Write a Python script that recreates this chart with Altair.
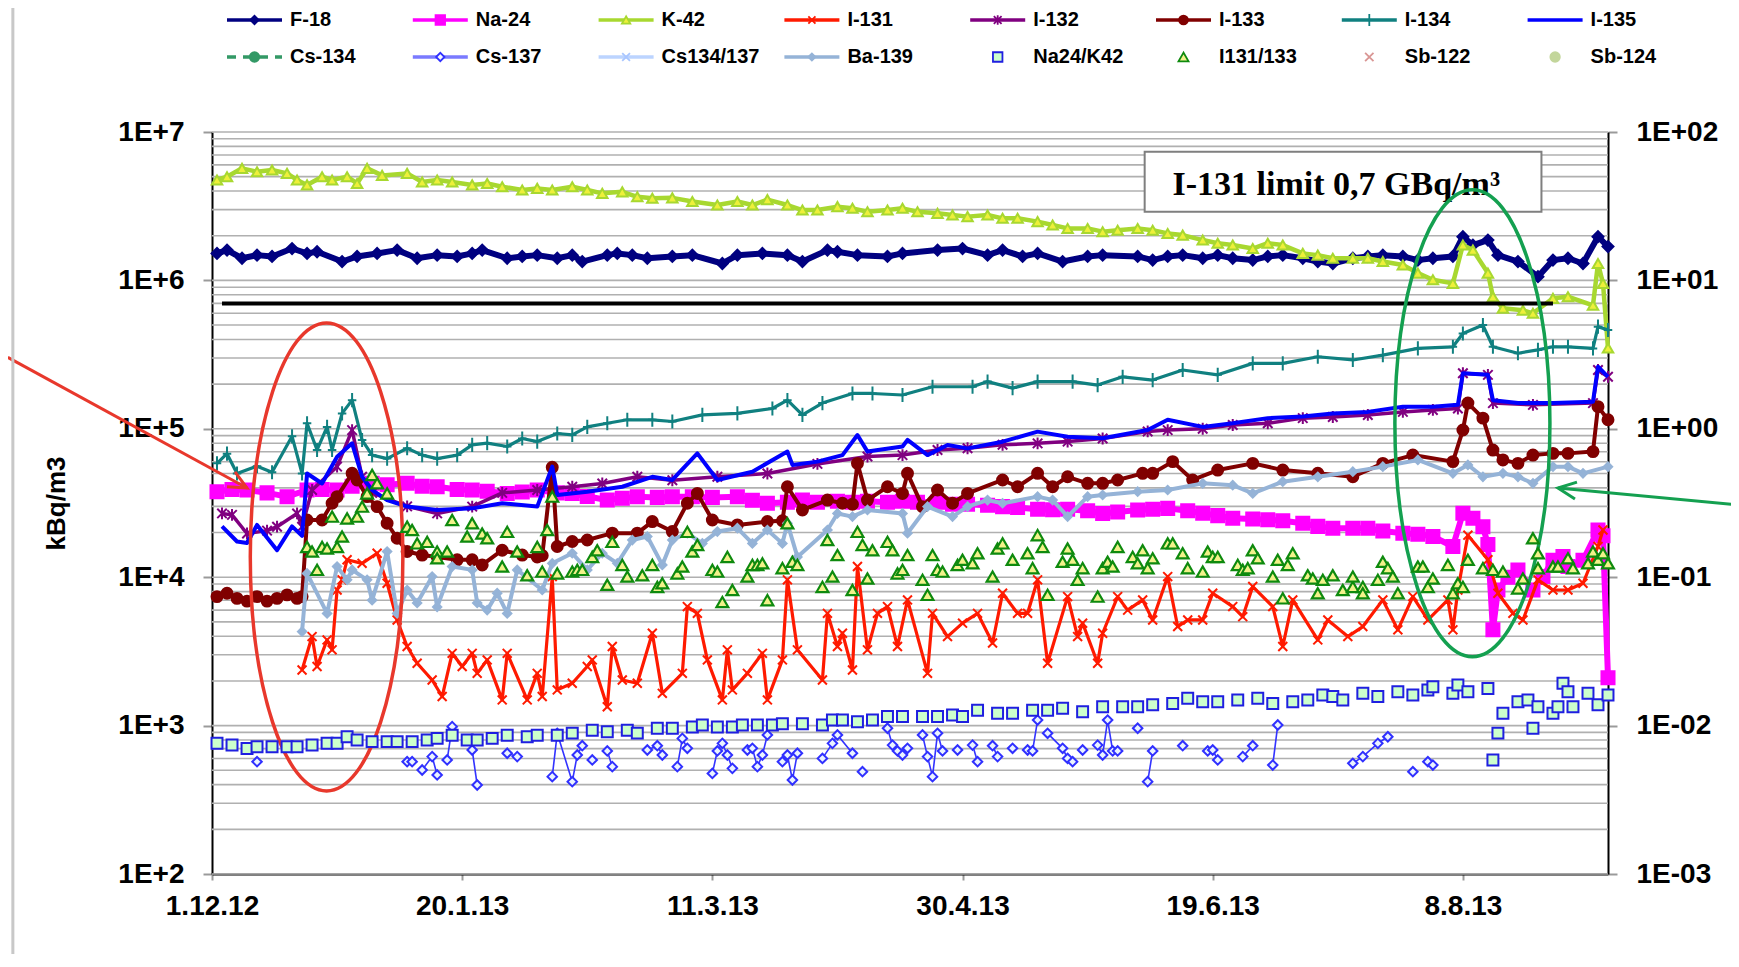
import altair as alt
import pandas as pd

# ---------------- data: day 0 = 1.12.2012, values in kBq/m3 (ratios on right axis) ----------------
F18 = [(1,1.52e6),(3,1.60e6),(6,1.41e6),(9,1.48e6),(12,1.45e6),(16,1.64e6),(19,1.52e6),(21,1.56e6),(26,1.34e6),(29,1.45e6),
       (33,1.52e6),(37,1.60e6),(41,1.41e6),(45,1.48e6),(49,1.45e6),(52,1.52e6),(54,1.60e6),(59,1.41e6),(62,1.45e6),(65,1.48e6),
       (69,1.41e6),(72,1.48e6),(74,1.34e6),(79,1.48e6),(81,1.52e6),(84,1.48e6),(87,1.41e6),(92,1.45e6),(96,1.48e6),(102,1.30e6),
       (105,1.48e6),(110,1.52e6),(115,1.48e6),(118,1.34e6),(123,1.60e6),(125,1.56e6),(129,1.48e6),(135,1.45e6),(138,1.52e6),(145,1.60e6),
       (150,1.64e6),(155,1.48e6),(158,1.60e6),(162,1.45e6),(165,1.52e6),(170,1.34e6),(175,1.45e6),(178,1.48e6),(185,1.45e6),(188,1.37e6),
       (191,1.45e6),(194,1.48e6),(198,1.41e6),(201,1.48e6),(204,1.41e6),(208,1.37e6),(211,1.45e6),(214,1.48e6),(218,1.41e6),(221,1.34e6),
       (224,1.30e6),(228,1.41e6),(231,1.45e6),(234,1.48e6),(238,1.45e6),(241,1.37e6),(244,1.41e6),(248,1.45e6),(250,1.97e6),(252,1.73e6),
       (255,1.87e6),(257,1.48e6),(261,1.34e6),(265,1.06e6),(268,1.37e6),(271,1.41e6),(274,1.30e6),(277,1.97e6),(279,1.69e6)]

K42 = [(1,4.75e6),(3,5.0e6),(6,5.69e6),(9,5.4e6),(12,5.55e6),(15,5.26e6),(17,4.75e6),(19,4.4e6),(22,5.0e6),(24,4.75e6),
       (27,5.0e6),(29,4.5e6),(31,5.69e6),(34,5.1e6),(39,5.26e6),(42,4.6e6),(45,4.75e6),(48,4.6e6),(52,4.4e6),(55,4.5e6),
       (58,4.28e6),(62,4.07e6),(65,4.17e6),(68,4.07e6),(72,4.28e6),(75,4.07e6),(78,3.86e6),(82,3.95e6),(85,3.66e6),(88,3.58e6),
       (92,3.6e6),(96,3.40e6),(101,3.22e6),(105,3.40e6),(108,3.22e6),(111,3.50e6),(115,3.22e6),(118,2.98e6),(121,2.98e6),(125,3.14e6),
       (128,3.06e6),(131,2.90e6),(135,2.98e6),(138,3.06e6),(141,2.90e6),(145,2.83e6),(148,2.76e6),(151,2.69e6),(155,2.76e6),(158,2.62e6),
       (161,2.62e6),(165,2.49e6),(168,2.36e6),(171,2.24e6),(175,2.24e6),(178,2.13e6),(181,2.18e6),(185,2.24e6),(188,2.18e6),(191,2.07e6),
       (194,2.02e6),(198,1.87e6),(201,1.78e6),(204,1.73e6),(208,1.64e6),(211,1.78e6),(214,1.73e6),(218,1.52e6),(221,1.48e6),(224,1.41e6),
       (228,1.41e6),(231,1.41e6),(234,1.34e6),(238,1.27e6),(241,1.12e6),(244,1.01e6),(248,0.955e6),(250,1.73e6),(252,1.60e6),(255,1.12e6),
       (256,0.776e6),(258,0.65e6),(262,0.63e6),(264,0.60e6),(268,0.757e6),(271,0.776e6),(276,0.68e6),(277,1.30e6),(278,0.955e6),(279,0.35e6)]

NA24 = [(1,3.77e4),(4,3.9e4),(7,3.87e4),(11,3.7e4),(15,3.49e4),(19,3.87e4),(22,3.9e4),(25,3.87e4),(28,4.1e4),(32,4.29e4),
        (35,4.2e4),(39,4.29e4),(42,4.1e4),(45,4.07e4),(49,3.9e4),(52,3.87e4),(55,3.8e4),(59,3.67e4),(62,3.75e4),(65,3.87e4),
        (69,3.7e4),(72,3.67e4),(75,3.5e4),(79,3.31e4),(82,3.4e4),(85,3.49e4),(89,3.45e4),(92,3.49e4),(96,3.49e4),(100,3.45e4),
        (105,3.49e4),(108,3.3e4),(111,3.15e4),(115,3.2e4),(118,3.31e4),(121,3.2e4),(125,3.25e4),(128,3.2e4),(131,3.25e4),(135,3.2e4),
        (138,3.25e4),(141,3.2e4),(145,3.2e4),(148,3.1e4),(151,3.1e4),(155,3.05e4),(158,2.99e4),(161,2.95e4),(165,2.87e4),(168,2.85e4),
        (171,2.87e4),(175,2.8e4),(178,2.69e4),(181,2.75e4),(185,2.84e4),(188,2.87e4),(191,2.91e4),(195,2.8e4),(198,2.70e4),(201,2.6e4),
        (204,2.50e4),(208,2.47e4),(211,2.44e4),(214,2.4e4),(218,2.31e4),(221,2.2e4),(224,2.14e4),(228,2.14e4),(231,2.14e4),(234,2.05e4),
        (238,1.98e4),(241,1.95e4),(244,1.88e4),(248,1.61e4),(250,2.70e4),(252,2.5e4),(254,2.19e4),(255,1.66e4),(256,4.42e3),(257,8.2e3),
        (259,1.0e4),(261,1.12e4),(264,8.2e3),(266,1.01e4),(268,1.3e4),(270,1.38e4),(271,1.18e4),(274,1.3e4),(277,2.08e4),(278,1.9e4),(279,2.1e3)]

I131 = [(18,2.37e3),(20,3.98e3),(21,2.5e3),(23,3.78e3),(24,3.24e3),(25,8.2e3),(26,9.6e3),(27,1.31e4),(30,1.24e4),(33,1.45e4),
        (35,9.1e3),(37,5.15e3),(39,3.41e3),(41,2.63e3),(44,2.03e3),(46,1.57e3),(48,3.07e3),(50,2.5e3),(52,3.07e3),(53,2.25e3),
        (55,2.77e3),(58,1.49e3),(59,3.07e3),(63,1.49e3),(65,2.25e3),(66,1.57e3),(68,1.01e4),(69,1.74e3),(72,1.93e3),(75,2.5e3),
        (76,2.77e3),(79,1.34e3),(80,3.41e3),(82,2.03e3),(85,1.93e3),(88,4.19e3),(90,1.65e3),(94,2.25e3),(95,6.34e3),(97,5.71e3),
        (99,2.77e3),(102,1.49e3),(103,3.24e3),(104,1.74e3),(107,2.25e3),(110,3.07e3),(111,1.49e3),(114,2.77e3),(115,9.6e3),(117,3.24e3),
        (122,2.03e3),(123,5.71e3),(125,3.41e3),(126,4.19e3),(128,2.37e3),(129,1.18e4),(131,3.24e3),(133,5.71e3),(135,6.34e3),(137,3.41e3),
        (139,7.03e3),(143,2.25e3),(144,5.71e3),(147,3.98e3),(150,4.9e3),(153,5.71e3),(156,3.6e3),(158,7.8e3),(161,5.71e3),(163,5.71e3),
        (165,9.6e3),(167,2.63e3),(171,7.4e3),(173,3.98e3),(174,4.9e3),(177,2.63e3),(178,4.19e3),(181,7.4e3),(183,6.0e3),(186,7.03e3),
        (188,5.15e3),(191,1.01e4),(193,4.65e3),(195,5.15e3),(198,5.15e3),(200,7.8e3),(204,6.34e3),(206,5.42e3),(208,8.65e3),(212,6.34e3),
        (214,3.41e3),(216,7.03e3),(221,3.78e3),(223,5.15e3),(227,3.98e3),(230,4.65e3),(234,7.03e3),(237,4.42e3),(240,7.4e3),(243,5.15e3),
        (247,7.03e3),(248,4.42e3),(249,8.2e3),(251,1.92e4),(255,1.31e4),(257,7.8e3),(260,5.71e3),(262,5.15e3),(265,9.6e3),(268,8.2e3),
        (271,8.2e3),(274,9.1e3),(277,1.61e4),(278,2.08e4)]

I132 = [(2,2.69e4),(4,2.63e4),(7,1.97e4),(11,2.06e4),(13,2.19e4),(17,2.69e4),(18,2.19e4),(20,3.87e4),(25,5.56e4),(28,9.8e4),
        (30,4.75e4),(32,3.7e4),(39,3.0e4),(45,2.69e4),(52,2.99e4),(58,3.7e4),(65,3.87e4),(72,4.07e4),(78,4.28e4),(85,4.75e4),
        (92,4.5e4),(101,4.75e4),(111,5.0e4),(121,5.8e4),(131,6.5e4),(138,6.65e4),(145,7.2e4),(151,7.4e4),(158,7.8e4),(165,7.98e4),
        (171,8.2e4),(178,8.6e4),(187,9.6e4),(191,9.8e4),(198,1.0e5),(204,1.06e5),(211,1.09e5),(218,1.18e5),(224,1.2e5),(231,1.24e5),
        (238,1.30e5),(244,1.34e5),(249,1.37e5),(250,2.37e5),(255,2.31e5),(256,1.49e5),(264,1.45e5),(276,1.49e5),(277,2.49e5),(279,2.24e5)]

I133 = [(1,7.4e3),(3,7.8e3),(5,7.2e3),(7,6.9e3),(9,7.4e3),(11,6.9e3),(13,7.2e3),(15,7.6e3),(17,7.2e3),(18,7.4e3),
        (19,2.43e4),(22,2.43e4),(24,3.15e4),(25,3.49e4),(28,5.01e4),(29,4.52e4),(31,3.49e4),(33,2.99e4),(35,2.31e4),(37,1.83e4),
        (39,1.49e4),(42,1.41e4),(45,1.37e4),(49,1.31e4),(52,1.31e4),(54,1.21e4),(58,1.52e4),(62,1.41e4),(65,1.37e4),(66,1.4e4),
        (68,5.5e4),(69,1.61e4),(72,1.74e4),(75,1.78e4),(80,1.98e4),(85,1.98e4),(88,2.37e4),(92,2.03e4),(95,3.15e4),(97,3.67e4),
        (100,2.43e4),(105,2.25e4),(111,2.37e4),(114,2.4e4),(115,4.07e4),(118,2.84e4),(123,3.31e4),(126,3.15e4),(128,3.1e4),(129,5.85e4),
        (131,3.31e4),(135,4.07e4),(138,3.67e4),(139,5.01e4),(142,2.99e4),(145,3.87e4),(148,3.15e4),(151,3.67e4),(158,4.52e4),(161,4.07e4),
        (165,5.01e4),(168,4.07e4),(171,4.75e4),(175,4.29e4),(178,4.29e4),(181,4.52e4),(186,5.01e4),(188,5.01e4),(192,6.01e4),(196,4.52e4),
        (201,5.27e4),(208,5.85e4),(214,5.27e4),(221,5.01e4),(228,4.75e4),(234,5.85e4),(240,6.65e4),(248,6.01e4),(250,9.81e4),(251,1.49e5),
        (254,1.18e5),(256,7.19e4),(258,6.17e4),(261,5.85e4),(264,6.65e4),(268,6.83e4),(271,6.83e4),(276,7.02e4),(277,1.41e5),(279,1.15e5)]

I134 = [(1,5.85e4),(3,6.8e4),(5,5.0e4),(9,5.6e4),(12,5.1e4),(16,8.9e4),(18,5.0e4),(19,1.09e5),(21,7.2e4),(23,1.03e5),
        (24,7.2e4),(26,1.27e5),(28,1.56e5),(30,8.4e4),(32,6.65e4),(35,6.3e4),(39,7.4e4),(42,6.65e4),(45,6.3e4),(49,6.65e4),
        (52,7.8e4),(55,8.0e4),(59,7.6e4),(62,8.6e4),(65,8.2e4),(69,9.3e4),(72,9.1e4),(75,1.03e5),(79,1.09e5),(83,1.15e5),
        (88,1.15e5),(92,1.12e5),(98,1.24e5),(105,1.27e5),(112,1.37e5),(115,1.56e5),(118,1.24e5),(122,1.49e5),(128,1.73e5),(132,1.73e5),
        (138,1.69e5),(144,1.92e5),(152,1.92e5),(155,2.08e5),(160,1.88e5),(165,2.08e5),(172,2.08e5),(177,1.97e5),(182,2.24e5),(188,2.13e5),
        (194,2.49e5),(201,2.31e5),(208,2.76e5),(214,2.76e5),(221,3.06e5),(228,2.91e5),(234,3.14e5),(241,3.48e5),(248,3.57e5),(250,4.39e5),
        (254,5.0e5),(256,3.57e5),(261,3.23e5),(265,3.40e5),(268,3.57e5),(271,3.57e5),(276,3.48e5),(277,4.88e5),(279,4.63e5)]

I135 = [(2,2.2e4),(5,1.74e4),(7,1.7e4),(9,2.25e4),(13,1.52e4),(16,2.2e4),(18,1.9e4),(19,5.0e4),(22,4.28e4),(25,6.48e4),
        (28,7.98e4),(30,4.75e4),(32,3.87e4),(35,3.31e4),(39,2.99e4),(45,2.84e4),(52,2.91e4),(58,3.15e4),(65,2.99e4),(68,5.56e4),
        (69,3.58e4),(75,3.77e4),(82,4.07e4),(88,4.75e4),(92,4.52e4),(97,6.83e4),(101,4.52e4),(108,5.14e4),(115,7.02e4),(116,5.71e4),
        (121,6.01e4),(126,6.65e4),(129,9.08e4),(131,7.02e4),(138,7.59e4),(139,8.41e4),(143,6.65e4),(147,7.78e4),(151,7.38e4),(158,8.19e4),
        (165,9.57e4),(171,8.85e4),(178,8.63e4),(187,9.81e4),(191,1.15e5),(198,1.03e5),(204,1.09e5),(211,1.18e5),(218,1.21e5),(224,1.27e5),
        (231,1.30e5),(238,1.41e5),(244,1.41e5),(249,1.45e5),(250,2.37e5),(255,2.31e5),(256,1.56e5),(261,1.49e5),(268,1.49e5),(276,1.52e5),
        (277,2.62e5),(279,2.24e5)]

BA139 = [(18,4.3e3),(19,1.06e4),(23,5.7e3),(25,1.18e4),(27,9.6e3),(28,1.12e4),(31,9.6e3),(32,7.0e3),(35,1.49e4),(37,5.7e3),
         (39,8.2e3),(41,6.7e3),(44,1.01e4),(45,6.3e3),(48,1.18e4),(52,1.12e4),(53,6.7e3),(55,6.0e3),(57,7.8e3),(59,5.7e3),
         (61,1.12e4),(66,8.2e3),(68,1.24e4),(72,1.45e4),(75,1.12e4),(78,1.45e4),(81,1.24e4),(84,1.78e4),(87,1.88e4),(90,1.21e4),
         (92,1.78e4),(95,1.98e4),(98,1.69e4),(101,2.03e4),(105,2.14e4),(108,1.69e4),(111,2.08e4),(114,1.69e4),(115,2.31e4),(117,1.37e4),
         (123,2.08e4),(125,2.69e4),(128,2.56e4),(131,2.84e4),(138,2.69e4),(139,1.98e4),(143,2.99e4),(148,2.56e4),(151,2.99e4),(155,3.31e4),
         (158,3.15e4),(165,3.49e4),(168,3.31e4),(171,2.56e4),(175,3.49e4),(178,3.58e4),(185,3.77e4),(191,3.87e4),(198,4.29e4),(204,4.17e4),
         (208,3.67e4),(214,4.40e4),(221,4.75e4),(228,5.14e4),(234,5.56e4),(241,6.17e4),(248,5.01e4),(251,5.71e4),(254,4.75e4),(258,5.01e4),
         (261,4.75e4),(264,4.29e4),(268,5.56e4),(271,5.56e4),(274,5.01e4),(279,5.56e4)]

# Cs-137: (day, value, run of consecutive measurements)
CS137 = [(9,571,1),(39,571,2),(40,571,2),(42,502,3),(44,618,3),(45,465,3),(47,587,4),(48,984,4),(52,685,5),(53,398,5),
         (59,651,6),(61,618,6),(68,453,7),(69,887,7),(72,419,7),(73,634,7),(74,732,7),(76,587,8),(79,675,9),(80,529,9),
         (87,685,10),(89,732,10),(90,634,10),(93,529,11),(94,820,11),(95,703,11),(100,476,12),(101,675,12),(102,759,12),(103,634,12),
         (104,515,12),(107,685,13),(108,703,13),(109,529,13),(110,634,13),(111,865,13),(114,571,14),(115,634,14),(116,430,14),(117,651,14),
         (122,601,15),(124,759,15),(125,865,15),(128,651,15),(130,489,16),(135,960,17),(136,739,17),(137,675,17),(138,634,17),(139,703,17),
         (142,865,18),(143,618,18),(144,453,18),(145,887,18),(146,675,18),(149,685,19),(152,739,20),(153,571,20),(156,732,21),(157,618,21),
         (160,703,22),(163,685,23),(164,675,23),(165,1090,23),(167,887,24),(170,703,24),(171,601,24),(172,571,24),(174,685,25),(177,739,26),
         (178,634,26),(179,1090,26),(180,675,26),(181,675,26),(185,960,27),(187,419,28),(188,675,28),(194,732,29),(199,675,30),(200,685,30),
         (201,587,30),(206,618,31),(208,732,31),(212,542,32),(213,1009,32),(228,557,33),(230,618,33),(233,759,33),(235,841,33),(240,489,34),
         (243,571,35),(244,542,35)]

# ratios (right axis)
NA24_K42 = [(1,7.6e-3),(4,7.4e-3),(7,7.0e-3),(9,7.2e-3),(12,7.2e-3),(15,7.2e-3),(17,7.2e-3),(20,7.4e-3),(23,7.6e-3),(25,7.6e-3),
            (27,8.4e-3),(29,8.0e-3),(32,7.8e-3),(35,7.8e-3),(37,7.8e-3),(40,7.8e-3),(43,8.0e-3),(45,8.2e-3),(48,8.6e-3),(51,8.0e-3),
            (53,8.0e-3),(56,8.2e-3),(59,8.6e-3),(63,8.4e-3),(65,8.6e-3),(69,8.6e-3),(72,8.9e-3),(76,9.3e-3),(79,9.1e-3),(83,9.3e-3),
            (85,8.9e-3),(89,9.6e-3),(92,9.6e-3),(96,9.8e-3),(98,1.01e-2),(101,9.8e-3),(104,9.8e-3),(106,1.01e-2),(109,1.01e-2),(112,1.01e-2),
            (114,1.03e-2),(118,1.03e-2),(122,1.01e-2),(124,1.09e-2),(126,1.09e-2),(129,1.06e-2),(132,1.09e-2),(135,1.15e-2),(138,1.15e-2),(142,1.15e-2),
            (145,1.15e-2),(148,1.18e-2),(150,1.15e-2),(153,1.27e-2),(157,1.21e-2),(160,1.21e-2),(164,1.27e-2),(167,1.27e-2),(170,1.31e-2),(174,1.24e-2),
            (178,1.34e-2),(182,1.34e-2),(185,1.34e-2),(188,1.38e-2),(192,1.41e-2),(195,1.53e-2),(198,1.45e-2),(201,1.45e-2),(205,1.49e-2),(209,1.53e-2),
            (212,1.41e-2),(216,1.45e-2),(219,1.49e-2),(222,1.61e-2),(224,1.57e-2),(226,1.49e-2),(230,1.65e-2),(233,1.57e-2),(237,1.69e-2),(240,1.61e-2),
            (243,1.74e-2),(244,1.83e-2),(248,1.65e-2),(249,1.88e-2),(251,1.69e-2),(255,1.78e-2),(256,5.87e-3),(257,8.9e-3),(258,1.21e-2),(261,1.45e-2),
            (263,1.49e-2),(264,9.6e-3),(265,1.34e-2),(268,1.21e-2),(269,1.34e-2),(270,1.93e-2),(271,1.69e-2),(272,1.34e-2),(275,1.65e-2),(277,1.38e-2),(279,1.61e-2)]

I131_133 = [(19,0.160),(20,0.149),(21,0.112),(22,0.160),(23,0.156),(24,0.256),(25,0.160),(26,0.188),(27,0.249),(29,0.256),
            (30,0.299),(31,0.367),(32,0.489),(33,0.429),(35,0.367),(39,0.219),(40,0.208),(41,0.169),(43,0.173),(45,0.149),
            (45,0.134),(47,0.149),(48,0.243),(51,0.188),(52,0.231),(54,0.197),(55,0.183),(58,0.118),(59,0.202),(61,0.149),
            (63,0.103),(65,0.160),(66,0.109),(67,0.208),(68,0.349),(69,0.106),(72,0.109),(73,0.112),(74,0.112),(76,0.137),
            (77,0.152),(79,0.089),(80,0.173),(82,0.121),(83,0.101),(86,0.103),(88,0.121),(89,0.086),(90,0.091),
            (93,0.106),(94,0.118),(95,0.202),(96,0.149),(97,0.165),(100,0.112),(101,0.109),(102,0.068),(103,0.137),(104,0.082),
            (107,0.101),(108,0.121),(109,0.121),(110,0.124),(111,0.070),(114,0.115),(115,0.231),(116,0.127),(117,0.121),(122,0.086),
            (123,0.178),(124,0.101),(125,0.141),(128,0.082),(129,0.202),(130,0.165),(131,0.098),(132,0.152),(135,0.173),(136,0.152),
            (137,0.106),(138,0.112),(139,0.141),(142,0.096),(143,0.076),(144,0.141),(145,0.112),(146,0.109),(149,0.121),(150,0.131),
            (152,0.124),(153,0.145),(156,0.101),(157,0.156),(158,0.169),(160,0.131),(163,0.145),(164,0.115),(165,0.192),(166,0.160),
            (167,0.076),(170,0.127),(171,0.156),(172,0.131),(173,0.096),(174,0.115),(177,0.074),(178,0.115),(179,0.127),(180,0.118),
            (181,0.160),(184,0.137),(185,0.124),(186,0.152),(187,0.115),(188,0.134),(191,0.169),(192,0.169),(194,0.145),(195,0.115),
            (198,0.109),(199,0.149),(200,0.137),(201,0.137),(205,0.121),(206,0.112),(207,0.115),(208,0.152),(209,0.134),(212,0.101),
            (213,0.131),(214,0.072),(215,0.121),(216,0.145),(219,0.103),(220,0.098),(221,0.078),(222,0.096),(224,0.103),(226,0.082),
            (228,0.086),(228,0.101),(230,0.086),(230,0.078),(233,0.096),(234,0.127),(235,0.115),(236,0.101),(237,0.078),(241,0.118),
            (242,0.118),(243,0.086),(244,0.098),(247,0.121),(248,0.078),(249,0.091),(250,0.086),(251,0.131),(254,0.115),(256,0.112),
            (258,0.109),(261,0.084),(262,0.098),(264,0.183),(265,0.115),(265,0.145),(268,0.118),(269,0.118),(271,0.134),(272,0.115),
            (275,0.124),(276,0.149),(277,0.131),(278,0.145),(279,0.124)]

LIMIT_I131 = 7e5  # 0,7 GBq/m3 in kBq/m3
LIMIT_TEXT = "I-131 limit 0,7 GBq/m³"

x_tick_days = [0, 50, 100, 150, 200, 250]
x_tick_labels = ["1.12.12", "20.1.13", "11.3.13", "30.4.13", "19.6.13", "8.8.13"]
y_left_ticks = [1e2, 1e3, 1e4, 1e5, 1e6, 1e7]
y_left_labels = ["1E+2", "1E+3", "1E+4", "1E+5", "1E+6", "1E+7"]
y_right_ticks = [1e-3, 1e-2, 1e-1, 1e0, 1e1, 1e2]
y_right_labels = ["1E-03", "1E-02", "1E-01", "1E+00", "1E+01", "1E+02"]

legend_names = ["F-18", "Na-24", "K-42", "I-131", "I-132", "I-133", "I-134", "I-135",
                "Cs-134", "Cs-137", "Cs134/137", "Ba-139", "Na24/K42", "I131/133", "Sb-122", "Sb-124"]

# ---------------- styles ----------------
FONT = "Liberation Sans"
XMARK = "M-1,-1L1,1M-1,1L1,-1"
STAR = "M-1,-1L1,1M-1,1L1,-1M0,-1.25L0,1.25"
PLUS = "M-0.6,0L0.6,0M0,-1L0,1"
NONE = "transparent"
STYLE = {
    "F-18": dict(line="#000080", shape="diamond", fill="#000080", stroke="#000080", size=70, dsize=120),
    "Na-24": dict(line="#FF00FF", shape="square", fill="#FF00FF", stroke="#FF00FF", size=90, dsize=170),
    "K-42": dict(line="#A8D830", shape="triangle-up", fill="#EEF03A", stroke="#A8D830", size=70, dsize=110),
    "I-131": dict(line="#FF1A00", shape=XMARK, fill=NONE, stroke="#FF1A00", size=50, dsize=80),
    "I-132": dict(line="#800080", shape=STAR, fill=NONE, stroke="#800080", size=60, dsize=90),
    "I-133": dict(line="#800000", shape="circle", fill="#800000", stroke="#800000", size=80, dsize=120),
    "I-134": dict(line="#108080", shape=PLUS, fill=NONE, stroke="#108080", size=150, dsize=200),
    "I-135": dict(line="#0000FF", shape=None),
    "Cs-134": dict(line="#339966", dash=True, shape="circle", fill="#339966", stroke="#339966", size=90),
    "Cs-137": dict(line="#7A7AFF", shape="diamond", fill="#F4F8FF", stroke="#3030FF", size=70),
    "Cs134/137": dict(line="#BCD4FF", shape=XMARK, fill=NONE, stroke="#A9C6FF", size=60),
    "Ba-139": dict(line="#95B3D7", shape="diamond", fill="#95B3D7", stroke="#95B3D7", size=50, dsize=70),
    "Na24/K42": dict(line=None, shape="square", fill="#CCFFCC", stroke="#1F1FE0", size=90),
    "I131/133": dict(line=None, shape="triangle-up", fill="#F2F28A", stroke="#0E8A0E", size=100),
    "Sb-122": dict(line=None, shape=XMARK, fill=NONE, stroke="#D99694", size=70),
    "Sb-124": dict(line=None, shape="circle", fill="#C3D69B", stroke="#C3D69B", size=90),
}

W, H = 1396, 742
X_MAX = 279


def label_expr(vals, labels):
    parts = [f"abs(datum.value/{v!r}-1)<1e-6 ? '{l}'" for v, l in zip(vals, labels)]
    return " : ".join(parts) + " : ''"


x_expr = " : ".join(f"datum.value == {d} ? '{l}'" for d, l in zip(x_tick_days, x_tick_labels)) + " : ''"

common_axis = dict(grid=False, domainColor="black", domainWidth=2, tickColor="#9a9a9a", tickWidth=2,
                   labelFont=FONT, labelFontSize=28, labelFontWeight="bold", labelColor="black",
                   labelOverlap=False)
x_axis = alt.Axis(values=x_tick_days, labelExpr=x_expr, title=None, tickSize=6, labelPadding=12,
                  labelFlush=False, **common_axis)
yl_axis = alt.Axis(orient="left", values=y_left_ticks, labelExpr=label_expr(y_left_ticks, y_left_labels),
                   tickSize=9, labelPadding=19, title="kBq/m3", titleFont=FONT, titleFontSize=26,
                   titleFontWeight="bold", titleColor="black", titlePadding=48, **common_axis)
yr_axis = alt.Axis(orient="right", values=y_right_ticks, labelExpr=label_expr(y_right_ticks, y_right_labels),
                   tickSize=9, labelPadding=19, title=None, **common_axis)

X = alt.X("day:Q", scale=alt.Scale(domain=[0, X_MAX], nice=False, zero=False), axis=x_axis)
YL = alt.Y("v:Q", scale=alt.Scale(type="log", domain=[1e2, 1e7], nice=False), axis=yl_axis)
YR = alt.Y("r:Q", scale=alt.Scale(type="log", domain=[1e-3, 1e2], nice=False), axis=yr_axis)


def df_of(pairs, cols=("day", "v")):
    return pd.DataFrame(pairs, columns=list(cols))


def series(name, pairs, width, marker=True):
    st = STYLE[name]
    base = alt.Chart(df_of(pairs))
    out = [base.mark_line(color=st["line"], strokeWidth=width, strokeJoin="round").encode(x=X, y=YL)]
    if marker and st.get("shape"):
        out.append(base.mark_point(shape=st["shape"], size=st["dsize"], fill=st["fill"], stroke=st["stroke"],
                                   strokeWidth=2, opacity=1).encode(x=X, y=YL))
    return out


# gridlines (Excel style minor log grid)
grid_vals = [m * 10 ** e for e in range(2, 7) for m in range(1, 10)] + [1e7]
grid = alt.Chart(pd.DataFrame({"day": 0, "day2": X_MAX, "v": grid_vals})).mark_rule(
    color="#b0b0b0", strokeWidth=1.6).encode(x=X, x2="day2:Q", y=YL)

left_layers = [grid]
left_layers += series("F-18", F18, 6)
left_layers += series("Na-24", NA24, 6)
left_layers += series("K-42", K42, 4.5)
left_layers += series("I-131", I131, 3.2)
left_layers += series("I-132", I132, 3.5)
left_layers += series("I-133", I133, 4)
left_layers += series("I-134", I134, 3.2)
left_layers += series("I-135", I135, 4, marker=False)

cs = alt.Chart(df_of(CS137, ("day", "v", "seg")))
left_layers.append(cs.mark_line(color="#3333FF", strokeWidth=1.6).encode(x=X, y=YL, detail="seg:N"))
left_layers.append(cs.mark_point(shape="diamond", size=90, fill="#EAF3FF", stroke="#3030FF",
                                 strokeWidth=2, opacity=1).encode(x=X, y=YL))
left_layers += series("Ba-139", BA139, 4)

# I-131 limit line and its label box
left_layers.append(alt.Chart(pd.DataFrame({"day": [2], "day2": [268], "v": [LIMIT_I131]})).mark_rule(
    color="black", strokeWidth=4).encode(x=X, x2="day2:Q", y=YL))
left_layers.append(alt.Chart(pd.DataFrame({"day": [186.4], "day2": [265.7], "v": [7.36e6], "v2": [2.90e6]})).mark_rect(
    fill="white", stroke="#7f7f7f", strokeWidth=2).encode(x=X, x2="day2:Q", y=YL, y2="v2:Q"))
left_layers.append(alt.Chart(pd.DataFrame({"day": [224.7], "v": [3.76e6], "t": [LIMIT_TEXT]})).mark_text(
    font="Liberation Serif", fontSize=34, fontWeight="bold", align="center", baseline="alphabetic",
    color="black").encode(x=X, y=YL, text="t:N"))

# highlight ellipses
ELL_RED = "M0,-1A0.326,1 0 1,1 0,1A0.326,1 0 1,1 0,-1Z"
ELL_GREEN = "M0,-1A0.332,1 0 1,1 0,1A0.332,1 0 1,1 0,-1Z"
left_layers.append(alt.Chart(pd.DataFrame({"day": [22.9], "v": [1.37e4]})).mark_point(
    shape=ELL_RED, size=468 ** 2, fill=NONE, stroke="#E8382C", strokeWidth=3.5, opacity=1).encode(x=X, y=YL))
left_layers.append(alt.Chart(pd.DataFrame({"day": [251.9], "v": [1.09e5]})).mark_point(
    shape=ELL_GREEN, size=467 ** 2, fill=NONE, stroke="#14A050", strokeWidth=3.5, opacity=1).encode(x=X, y=YL))

# arrows pointing at the ellipses
arrows = pd.DataFrame([
    ("r_shaft", 0, -40.8, 3.03e5, "#E8382C"), ("r_shaft", 1, 6.99, 3.99e4, "#E8382C"),
    ("r_head", 0, 3.0, 4.07e4, "#E8382C"), ("r_head", 1, 6.99, 3.99e4, "#E8382C"), ("r_head", 2, 4.6, 5.12e4, "#E8382C"),
    ("g_shaft", 0, 305.2, 3.07e4, "#14A050"), ("g_shaft", 1, 269.0, 3.99e4, "#14A050"),
    ("g_head", 0, 272.8, 4.37e4, "#14A050"), ("g_head", 1, 269.0, 3.99e4, "#14A050"), ("g_head", 2, 272.4, 3.37e4, "#14A050"),
], columns=["part", "ord", "day", "v", "col"])
left_layers.append(alt.Chart(arrows).mark_line(strokeWidth=3).encode(
    x=X, y=YL, detail="part:N", order="ord:Q", color=alt.Color("col:N", scale=None)))

# page-side border line at far left
left_layers.append(alt.Chart(pd.DataFrame({"day": [-39.8], "v": [7.7e7], "v2": [23.6]})).mark_rule(
    color="#c8c8c8", strokeWidth=3).encode(x=X, y=YL, y2="v2:Q"))

left = alt.layer(*left_layers)

right = alt.layer(
    alt.Chart(df_of(NA24_K42, ("day", "r"))).mark_point(
        shape="square", size=120, fill="#CCFFCC", stroke="#1F1FE0", strokeWidth=2, opacity=1).encode(x=X, y=YR),
    alt.Chart(df_of(I131_133, ("day", "r"))).mark_point(
        shape="triangle-up", size=140, fill="#F2F28A", stroke="#0E8A0E", strokeWidth=2.2, opacity=1).encode(x=X, y=YR),
)

# ---------------- legend (two rows of eight, above the plot) ----------------
leg_rows = []
for i, n in enumerate(legend_names):
    st = STYLE[n]
    leg_rows.append(dict(name=n, col=i % 8, row=i // 8,
                         lcol=st["line"] or "", dash=1 if st.get("dash") else 0,
                         mshape=st.get("shape") or "", mfill=st.get("fill", NONE),
                         mstroke=st.get("stroke", NONE), msize=st.get("size", 0)))
leg = alt.Chart(pd.DataFrame(leg_rows)).transform_calculate(
    lx0="15 + 185.8 * datum.col", lx1="15 + 185.8 * datum.col + 55",
    lxm="15 + 185.8 * datum.col + 27.5", lxt="15 + 185.8 * datum.col + 63",
    ly="-112 + 37 * datum.row")
LX = lambda f: alt.X(f"{f}:Q", scale=None, axis=None)
LY = alt.Y("ly:Q", scale=None, axis=None)
legend = alt.layer(
    leg.transform_filter("datum.lcol != '' && datum.dash == 0").mark_rule(strokeWidth=3.5).encode(
        x=LX("lx0"), x2="lx1:Q", y=LY, color=alt.Color("lcol:N", scale=None)),
    leg.transform_filter("datum.lcol != '' && datum.dash == 1").mark_rule(strokeWidth=3.5, strokeDash=[9, 7]).encode(
        x=LX("lx0"), x2="lx1:Q", y=LY, color=alt.Color("lcol:N", scale=None)),
    leg.transform_filter("datum.mshape != ''").mark_point(strokeWidth=1.8, opacity=1).encode(
        x=LX("lxm"), y=LY, shape=alt.Shape("mshape:N", scale=None), fill=alt.Fill("mfill:N", scale=None),
        stroke=alt.Stroke("mstroke:N", scale=None), size=alt.Size("msize:Q", scale=None)),
    leg.mark_text(align="left", baseline="middle", font=FONT, fontSize=20, fontWeight="bold", color="black").encode(
        x=LX("lxt"), y=LY, text="name:N"),
)

chart = alt.layer(left, right, legend).resolve_scale(y="independent").properties(
    width=W, height=H,
    autosize=alt.AutoSizeParams(type="none"),
    padding={"left": 204, "top": 124, "right": 123, "bottom": 80},
).configure_view(strokeWidth=0)

chart.save("out.html", embed_options={"renderer": "svg", "actions": False})
